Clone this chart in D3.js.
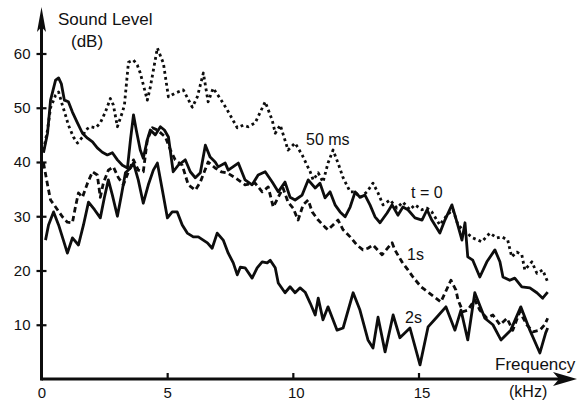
<!DOCTYPE html>
<html>
<head>
<meta charset="utf-8">
<script src="https://cdn.jsdelivr.net/npm/d3@7"></script>
<style>
  html, body { margin: 0; padding: 0; background: #fff; }
  svg { display: block; }
  text { font-family: "Liberation Sans", Arial, sans-serif; fill: #111; }
</style>
</head>
<body>
<svg></svg>
<script>
//	tick values
var xTicks = [0, 5, 10, 15];
var yTicks = [10, 20, 30, 40, 50, 60];

//	series, [kHz, dB]
var t0 = [[0.08,41.7],[0.24,45.3],[0.36,51.4],[0.56,55.1],[0.68,55.5],[0.79,54.4],[0.91,51.4],[1.07,51.1],
  [1.23,49.2],[1.43,47.2],[1.63,45.3],[1.83,44.4],[2.03,43.7],[2.22,42.6],[2.42,41.8],[2.62,41.3],[2.82,41.7],
  [3.02,40.4],[3.22,39.4],[3.42,38.9],[3.54,44.1],[3.66,48.7],[3.77,45.9],[3.93,42.2],[4.05,40.7],[4.21,44.1],
  [4.33,45.9],[4.53,45.0],[4.73,46.5],[4.89,45.9],[5.05,44.6],[5.24,38.2],[5.44,39.4],[5.72,40.4],[5.92,38.2],
  [6.12,37.1],[6.32,38.0],[6.52,43.1],[6.71,40.9],[6.91,40.0],[7.03,39.1],[7.31,39.8],[7.43,38.5],[7.83,39.8],
  [8.10,36.7],[8.38,35.8],[8.62,37.6],[8.90,38.2],[9.18,36.3],[9.42,34.5],[9.69,36.3],[9.89,33.5],[10.09,33.0],
  [10.37,33.9],[10.61,36.7],[10.89,35.2],[11.08,36.1],[11.28,33.4],[11.48,34.5],[11.68,32.1],[11.88,30.8],
  [12.08,29.9],[12.28,31.7],[12.48,34.5],[12.67,33.5],[12.87,33.9],[13.07,32.1],[13.27,29.9],[13.47,28.8],
  [13.75,30.6],[13.95,32.1],[14.18,30.2],[14.38,31.7],[14.58,31.2],[14.86,29.7],[15.14,29.3],[15.34,31.2],
  [15.53,29.3],[15.85,26.9],[16.05,29.3],[16.33,32.1],[16.53,28.9],[16.73,25.6],[16.85,28.8],[16.96,22.5],
  [17.16,21.9],[17.44,18.8],[17.72,21.6],[18.04,23.8],[18.24,21.6],[18.36,18.8],[18.63,18.2],[18.83,18.6],
  [19.11,17.0],[19.43,16.8],[19.71,15.9],[19.94,14.9],[20.14,16.0]];

var ms50 = [[0.08,42.2],[0.24,45.9],[0.36,50.0],[0.56,52.3],[0.68,52.9],[0.83,50.5],[0.95,48.7],[1.07,46.8],
  [1.27,44.6],[1.43,43.5],[1.63,44.6],[1.75,45.9],[1.95,46.5],[2.15,46.3],[2.34,47.2],[2.54,49.2],[2.74,51.7],
  [2.86,50.5],[3.02,46.5],[3.22,49.2],[3.30,50.5],[3.46,58.4],[3.66,58.8],[3.81,57.9],[3.93,56.4],[4.21,51.4],
  [4.33,53.8],[4.61,61.0],[4.85,58.2],[5.05,52.0],[5.32,52.7],[5.64,53.3],[6.00,50.1],[6.20,52.0],[6.44,56.4],
  [6.63,51.1],[6.83,53.6],[7.11,51.7],[7.39,49.6],[7.79,46.3],[8.03,46.8],[8.22,46.5],[8.50,47.2],[8.90,51.1],
  [9.18,47.7],[9.30,45.3],[9.50,46.8],[9.81,42.2],[10.09,43.5],[10.37,41.3],[10.69,38.2],[10.81,36.7],
  [11.01,38.0],[11.20,36.3],[11.40,39.8],[11.60,42.2],[11.80,39.8],[12.00,37.1],[12.28,34.5],[12.48,34.5],
  [12.67,33.4],[12.95,34.5],[13.19,36.1],[13.39,34.3],[13.59,32.1],[13.87,33.0],[14.14,31.5],[14.38,32.6],
  [14.66,31.2],[14.86,32.1],[15.14,31.2],[15.34,31.5],[15.53,30.8],[15.85,28.4],[16.13,30.2],[16.37,31.2],
  [16.57,28.4],[16.77,27.5],[17.16,26.0],[17.52,25.3],[17.84,26.9],[18.12,26.0],[18.32,26.2],[18.55,25.6],
  [18.71,22.5],[18.91,23.4],[19.11,22.9],[19.23,20.1],[19.51,21.6],[19.71,19.5],[19.94,20.1],[20.14,17.9]];

var s1 = [[0.08,39.8],[0.24,35.8],[0.36,33.0],[0.56,31.7],[0.83,29.9],[1.03,28.9],[1.23,28.8],[1.35,31.7],
  [1.47,34.3],[1.63,33.5],[1.83,36.1],[2.03,38.2],[2.22,37.6],[2.34,33.5],[2.46,36.1],[2.66,38.5],[2.86,39.1],
  [3.06,37.1],[3.26,35.8],[3.46,38.2],[3.66,40.4],[3.85,38.5],[4.05,38.2],[4.21,44.1],[4.41,46.3],[4.61,45.9],
  [4.93,44.6],[5.13,42.2],[5.32,40.4],[5.60,39.4],[5.84,35.8],[6.12,34.8],[6.32,36.3],[6.63,40.0],[6.91,38.9],
  [7.15,38.2],[7.39,38.0],[7.71,37.1],[8.10,35.8],[8.50,36.1],[8.78,34.5],[9.02,35.4],[9.22,31.7],[9.42,33.5],
  [9.61,35.2],[9.81,32.6],[10.01,31.5],[10.21,29.3],[10.41,32.1],[10.61,33.0],[10.77,30.8],[11.01,29.3],
  [11.28,28.0],[11.40,27.5],[11.60,28.4],[11.80,29.3],[12.00,27.5],[12.28,26.2],[12.55,24.7],[12.79,23.8],
  [12.99,24.1],[13.19,24.7],[13.55,22.9],[13.95,25.1],[14.06,23.8],[14.34,21.6],[14.58,20.1],[14.78,18.8],
  [15.10,17.0],[15.38,16.0],[15.69,14.9],[15.89,14.2],[16.17,17.0],[16.29,18.2],[16.49,16.4],[16.57,14.6],
  [16.77,12.4],[16.96,12.7],[17.24,14.6],[17.44,12.7],[17.72,11.2],[17.96,11.8],[18.24,10.0],[18.52,11.2],
  [18.75,9.0],[19.03,12.4],[19.31,10.0],[19.55,8.7],[19.83,9.0],[20.02,10.0],[20.14,11.2]];

var s2 = [[0.16,25.6],[0.28,28.4],[0.48,30.8],[0.68,28.4],[0.87,25.6],[1.03,23.2],[1.23,26.0],[1.47,24.7],
  [1.67,28.4],[1.87,32.6],[2.11,31.2],[2.34,29.7],[2.50,33.4],[2.66,36.7],[2.82,33.9],[3.02,30.0],[3.18,33.9],
  [3.34,38.0],[3.54,38.9],[3.66,39.8],[3.85,36.7],[4.05,32.4],[4.25,35.8],[4.45,38.5],[4.61,39.8],[4.81,34.8],
  [5.01,29.7],[5.20,30.8],[5.40,30.8],[5.60,28.4],[5.80,26.9],[6.04,26.2],[6.24,26.2],[6.60,25.1],[6.79,24.1],
  [6.99,26.9],[7.23,25.6],[7.43,23.2],[7.63,21.4],[7.79,19.2],[7.91,20.6],[8.10,20.5],[8.38,18.6],[8.58,20.5],
  [8.78,21.6],[8.98,21.4],[9.10,21.9],[9.30,20.5],[9.42,17.7],[9.69,15.9],[9.89,17.0],[10.09,15.9],[10.29,16.8],
  [10.49,16.0],[10.69,14.0],[10.89,11.8],[11.01,14.9],[11.20,10.9],[11.40,13.3],[11.76,9.0],[12.00,9.4],
  [12.40,15.9],[12.67,12.7],[12.99,7.2],[13.19,5.7],[13.39,11.4],[13.67,5.0],[13.99,11.8],[14.26,7.6],
  [14.66,9.4],[15.06,2.6],[15.38,9.6],[15.69,11.2],[16.09,13.3],[16.45,9.0],[16.69,12.7],[16.96,7.2],
  [17.24,15.9],[17.64,11.2],[17.96,10.0],[18.28,7.2],[18.67,9.0],[19.07,13.3],[19.43,9.0],[19.83,4.8],
  [20.06,8.5],[20.14,9.4]];

var seriesNames = ["t = 0", "50 ms", "1s", "2s"];
var seriesData = [t0, ms50, s1, s2];

var width = 578, height = 403;
var svg = d3.select("svg").attr("width", width).attr("height", height);

//	scales
var x = d3.scaleLinear().domain([0, 15]).range([41.5, 418.5]);
var y = d3.scaleLinear().domain([0, 60]).range([379, 53.5]);

var ink = "#0d0d0d";

//	line styles per series
var dashes = { "t = 0": null, "50 ms": "2.8,3.2", "1s": "5.5,3.5", "2s": null };
var widths = { "t = 0": 2.8, "50 ms": 2.8, "1s": 2.8, "2s": 2.8 };

var line = d3.line()
  .x(function(d) { return x(d[0]); })
  .y(function(d) { return y(d[1]); });

svg.append("g").selectAll("path")
  .data(seriesData)
  .enter().append("path")
    .attr("d", line)
    .attr("fill", "none")
    .attr("stroke", ink)
    .attr("stroke-width", function(d, i) { return widths[seriesNames[i]]; })
    .attr("stroke-dasharray", function(d, i) { return dashes[seriesNames[i]]; })
    .attr("stroke-linejoin", "round");

//	y axis
var yAxis = svg.append("g")
  .attr("transform", "translate(" + x(0) + ",0)")
  .call(d3.axisLeft(y).tickValues(yTicks).tickSizeInner(5).tickSizeOuter(0).tickPadding(6));
yAxis.select(".domain").remove();
yAxis.selectAll(".tick line").attr("x1", 5).attr("x2", -5).attr("stroke", ink).attr("stroke-width", 2.2);
yAxis.selectAll(".tick text").attr("font-size", 15).attr("font-family", null).attr("fill", "#111");

//	x axis
var xAxis = svg.append("g")
  .attr("transform", "translate(0," + y(0) + ")")
  .call(d3.axisBottom(x).tickValues(xTicks).tickSizeInner(0).tickSizeOuter(0).tickPadding(8));
xAxis.select(".domain").remove();
xAxis.selectAll(".tick line").attr("y1", function(d) { return d === 0 ? 0 : -6; })
  .attr("y2", 1).attr("stroke", ink).attr("stroke-width", 2.2);
xAxis.selectAll(".tick text").attr("font-size", 15).attr("font-family", null).attr("fill", "#111")
  .attr("dx", function(d) { return d >= 10 ? 3 : 0; });

//	axis lines with arrow heads
svg.append("line")
  .attr("x1", x(0)).attr("y1", y(0) + 1.4).attr("x2", x(0)).attr("y2", 20)
  .attr("stroke", ink).attr("stroke-width", 3);
svg.append("path")
  .attr("d", "M" + x(0) + ",7 L" + (x(0) - 4.5) + ",32 L" + x(0) + ",27 L" + (x(0) + 4.5) + ",32 Z")
  .attr("fill", ink);

svg.append("line")
  .attr("x1", x(0)).attr("y1", y(0)).attr("x2", 565).attr("y2", y(0))
  .attr("stroke", ink).attr("stroke-width", 3);
svg.append("path")
  .attr("d", "M577," + y(0) + " L553," + (y(0) - 7) + " L559," + y(0) + " L553," + (y(0) + 7) + " Z")
  .attr("fill", ink);

//	axis titles
svg.append("text").attr("x", 58).attr("y", 25).attr("font-size", 17).text("Sound Level");
svg.append("text").attr("x", 71).attr("y", 47).attr("font-size", 17).text("(dB)");
svg.append("text").attr("x", 495).attr("y", 370).attr("font-size", 17).text("Frequency");
svg.append("text").attr("x", 509).attr("y", 397).attr("font-size", 16).text("(kHz)");

//	series labels
var labelPos = [[411, 198], [306, 145], [407, 260], [405, 323]];
svg.append("g").selectAll("text")
  .data(seriesNames)
  .enter().append("text")
    .attr("x", function(d, i) { return labelPos[i][0]; })
    .attr("y", function(d, i) { return labelPos[i][1]; })
    .attr("font-size", 16)
    .text(function(d) { return d; });
</script>
</body>
</html>
